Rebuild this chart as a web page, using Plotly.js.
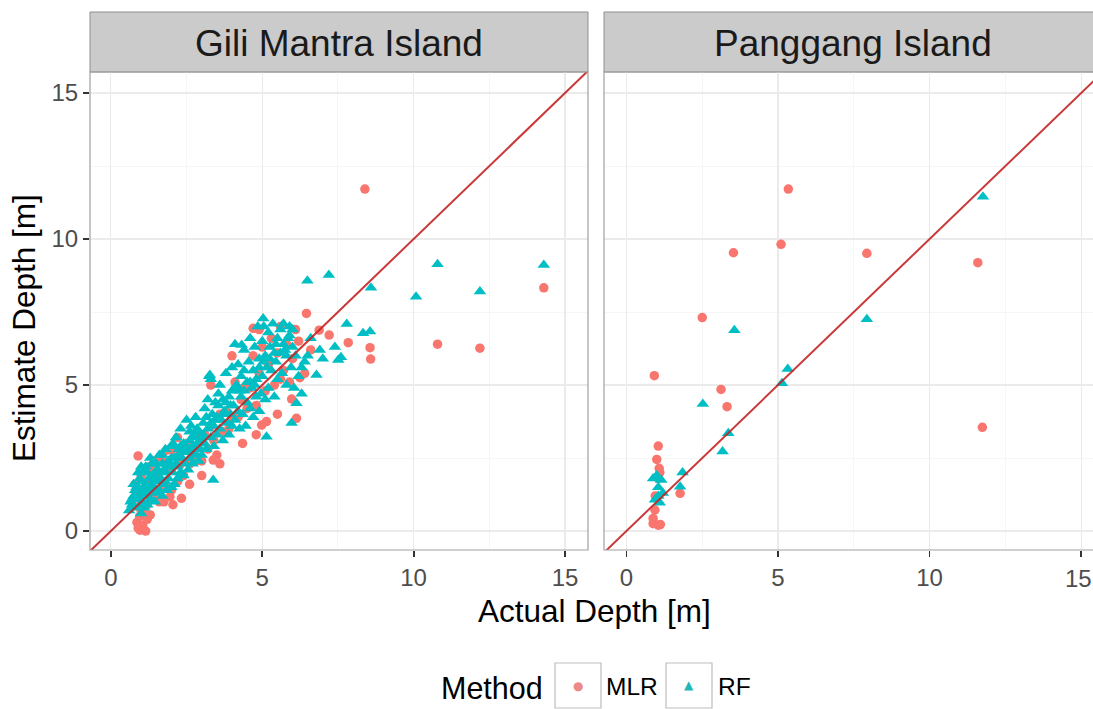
<!DOCTYPE html>
<html>
<head>
<meta charset="utf-8">
<script src="https://cdn.plot.ly/plotly-3.0.1.min.js"></script>
<style>html,body{margin:0;padding:0;background:#fff;}#chart{width:1093px;height:709px;}</style>
</head>
<body>
<div id="chart"></div>
<script>
// ---------- data ----------
const facets = ["Gili Mantra Island", "Panggang Island"];
const methods = ["MLR", "RF"];
const depthTicks = [0, 5, 10, 15];
const minorTicks = [2.5, 7.5, 12.5];
const identityLine = [-1, 17];

// Gili Mantra - MLR
const gmMlrX = [8.39,14.3,10.79,12.19,8.56,8.58,6.46,7.21,6.88,7.84,6.24,6.13,4.98,5.14,4.7,3.38,0.9,0.96,2.33,5.97,1.85,2.2,1.39,1.95,
  0.86,0.95,1.05,1.1,1.2,1.3,1.0,0.9,1.15,
  0.7,0.8,1.0,1.1,1.2,1.3,1.4,1.5,1.6,1.7,1.8,1.9,2.0,2.1,2.2,2.3,2.4,2.5,2.6,2.7,2.8,2.9,3.0,3.1,3.2,3.3,3.4,3.5,3.6,3.7,3.8,3.9,
  4.0,4.1,4.2,4.3,4.4,4.5,4.6,4.7,4.8,4.9,5.0,5.1,5.2,5.3,5.4,5.5,5.6,5.7,5.8,5.9,6.0,6.2,6.4,6.6,
  2.05,1.75,2.6,3.0,1.45,1.25,0.85,3.6,4.35,4.8,5.5,3.3,4.0,4.9,5.6,6.1];
const gmMlrY = [11.71,8.33,6.4,6.26,6.28,5.89,7.45,6.71,6.88,6.45,5.25,3.86,3.63,3.75,6.94,2.43,2.57,0.03,1.12,4.52,2.77,3.2,2.16,1.17,
  0.3,0.5,0.2,0.6,0.4,0.55,0.7,0.1,0.0,
  1.0,1.6,1.9,1.3,0.9,1.7,1.2,2.0,1.0,2.4,1.5,2.1,1.4,2.7,1.7,2.3,1.9,3.0,2.3,2.6,2.4,3.2,2.4,3.3,2.8,3.6,3.1,2.6,4.0,3.4,4.1,3.5,
  3.9,5.1,3.9,4.5,4.9,4.2,4.9,6.0,4.3,5.4,6.3,4.8,5.7,6.6,5.0,6.1,5.2,5.5,6.4,5.1,5.9,6.5,5.4,6.2,
  0.9,1.0,1.6,1.9,2.4,2.2,1.3,2.3,3.0,3.3,4.0,5.0,6.0,6.9,7.0,6.9];

// Gili Mantra - RF
const gmRfX = [0.6,0.7,0.75,0.8,0.85,0.9,0.95,1.0,1.0,0.9,1.05,0.8,0.7,0.95,1.0,
  1.1,1.15,1.2,1.2,1.25,1.3,1.3,1.35,1.4,1.45,1.45,1.5,1.5,1.1,1.2,
  1.55,1.6,1.6,1.65,1.7,1.7,1.75,1.8,1.8,1.85,1.9,1.9,1.95,2.0,2.0,
  2.05,2.1,2.1,2.15,2.2,2.2,2.25,2.3,2.3,2.35,2.4,2.4,2.45,2.5,2.5,
  2.55,2.6,2.6,2.65,2.7,2.7,2.75,2.8,2.8,2.85,2.9,2.9,2.95,3.0,3.0,
  3.05,3.1,3.1,3.15,3.2,3.25,3.3,3.3,3.35,3.4,3.4,3.45,3.5,3.5,
  3.55,3.6,3.6,3.65,3.7,3.7,3.75,3.8,3.85,3.9,3.9,3.95,4.0,4.0,4.0,
  4.05,4.1,4.1,4.15,4.2,4.2,4.25,4.3,4.3,4.35,4.4,4.4,4.45,4.5,4.5,
  4.55,4.6,4.6,4.65,4.7,4.7,4.75,4.8,4.8,4.85,4.9,4.9,4.95,5.0,5.0,
  5.05,5.1,5.1,5.15,5.2,5.2,5.25,5.3,5.35,5.4,5.4,5.45,5.5,5.5,
  5.6,5.65,5.7,5.75,5.8,5.85,5.9,5.95,6.0,6.05,6.1,6.2,6.3,6.4,
  6.0,5.9,6.5,7.0,6.3,6.9,7.6,7.4,6.6,5.7,
  0.65,0.75,0.85,0.9,1.0,1.05,1.1,1.15,1.2,1.25,1.3,1.35,1.4,1.5,1.55,1.6,1.7,1.75,1.8,1.9,2.0,2.05,2.15,2.25,2.3,2.4,
  2.55,2.6,2.7,2.75,2.85,2.95,3.05,3.15,3.2,3.3,3.45,3.55,3.7,3.8,3.95,4.1,4.25,4.4,4.6,4.75,4.9,5.05,5.25,5.45,5.6,5.8,
  10.79,14.3,6.49,7.2,8.59,10.08,12.19,5.03,7.79,8.33,8.56,7.51,6.79,6.13,5.97,5.14,3.38,3.27,4.32];
const gmRfY = [0.7,0.9,1.2,0.8,1.5,1.1,1.8,0.6,1.3,2.0,1.0,1.4,1.1,0.9,2.2,
  1.2,1.6,0.9,2.0,1.4,1.1,1.8,2.3,1.5,1.0,2.0,1.3,1.7,0.8,1.5,
  2.1,1.4,2.6,1.8,1.2,2.3,1.6,2.0,2.8,1.4,2.4,1.8,2.2,1.5,2.9,
  2.0,2.5,1.6,3.2,2.2,1.8,2.8,2.0,3.5,2.5,1.9,3.0,2.3,2.7,3.8,
  2.1,3.1,2.5,3.6,2.3,2.9,3.3,2.6,3.9,3.0,2.4,3.4,2.8,3.2,2.6,
  3.7,3.0,4.2,2.8,3.5,5.3,5.2,3.2,4.0,2.9,3.6,4.4,3.3,3.9,
  4.3,3.5,5.0,3.8,4.5,3.1,4.1,5.4,3.7,4.6,3.3,4.0,4.8,3.6,5.6,
  4.3,3.8,6.4,5.0,4.1,5.7,3.5,4.6,5.3,4.0,6.2,4.8,3.6,5.1,4.4,
  5.8,4.2,6.6,4.9,3.9,5.5,6.3,4.6,5.2,7.0,4.1,5.9,4.7,6.5,5.3,
  7.0,4.5,6.0,5.6,6.8,4.9,6.3,5.5,7.1,6.1,4.6,5.8,6.6,5.2,
  6.9,5.4,7.1,6.2,5.0,6.6,7.0,5.6,6.3,4.9,6.0,5.3,4.7,5.8,
  6.9,6.7,6.0,5.9,5.6,6.2,5.95,6.3,6.6,6.4,
  1.0,1.6,1.1,1.5,1.7,2.0,1.4,2.2,1.2,1.8,2.5,1.6,1.9,2.3,1.7,2.0,2.6,2.1,1.7,2.2,2.5,3.0,2.3,2.6,2.9,2.7,
  2.8,3.4,3.2,2.7,3.5,3.1,3.3,3.9,4.5,3.7,3.8,4.7,4.0,4.4,4.3,4.9,4.8,5.5,5.1,5.0,5.6,5.8,5.9,6.4,6.1,6.0,
  9.14,9.11,8.57,8.77,8.33,8.02,8.2,7.28,7.09,6.77,6.83,5.86,5.34,4.38,3.7,3.23,1.75,5.34,6.37];

// Panggang - MLR
const pgMlrX = [5.34,5.1,3.53,7.93,11.59,2.5,0.92,3.12,3.32,11.74,1.05,1.0,1.08,1.77,0.94,0.88,1.05,0.88,1.12,1.05,0.95,1.1];
const pgMlrY = [11.71,9.82,9.53,9.51,9.19,7.31,5.32,4.85,4.26,3.55,2.91,2.45,2.15,1.29,0.72,0.43,0.2,0.25,0.22,1.8,1.2,2.0];
// Panggang - RF
const pgRfX = [11.76,3.56,7.93,5.32,5.13,2.52,3.36,3.17,1.85,1.77,0.88,1.15,1.05,0.94,1.2,1.1,1.0,1.05];
const pgRfY = [11.45,6.88,7.25,5.55,5.06,4.35,3.35,2.72,2.0,1.52,1.8,1.75,1.5,1.07,1.3,0.97,1.9,1.2];

// ---------- style ----------
const FONT = "Liberation Sans, Arial, Helvetica, sans-serif";
const colMLR = "#F8766D", colRF = "#00BFC4";
const lineCol = "rgba(195,35,35,0.9)";

function pts(x, y, xa, ya, method) {
  const isMLR = method === "MLR";
  return {
    type: "scatter", mode: "markers", x: x, y: y, xaxis: xa, yaxis: ya,
    name: method, showlegend: false, hoverinfo: "x+y+name",
    marker: { symbol: isMLR ? "circle" : "triangle-up", size: isMLR ? 9.5 : 11,
      color: isMLR ? colMLR : colRF, line: { width: 0 } }
  };
}
function refLine(xa, ya) {
  return { type: "scatter", mode: "lines", x: identityLine, y: identityLine, xaxis: xa, yaxis: ya,
    showlegend: false, hoverinfo: "skip", line: { color: lineCol, width: 2 } };
}

const data = [
  pts(gmMlrX, gmMlrY, "x", "y", methods[0]),
  pts(gmRfX, gmRfY, "x", "y", methods[1]),
  refLine("x", "y"),
  pts(pgMlrX, pgMlrY, "x2", "y2", methods[0]),
  pts(pgRfX, pgRfY, "x2", "y2", methods[1]),
  refLine("x2", "y2")
];

// geometry (pixels -> paper)
const W = 1093, H = 709, mL = 90, mR = 0, mT = 12, mB = 159;
const pw = W - mL - mR, ph = H - mT - mB;
const px = v => (v - mL) / pw;
const py = v => (H - mB - v) / ph;
const panelTop = py(72);

const tickFont = { family: FONT, size: 24, color: "#4d4d4d" };
const axisBase = {
  tickmode: "array", tickvals: depthTicks, ticktext: depthTicks.map(String),
  ticks: "outside", ticklen: 6, tickwidth: 1.8, tickcolor: "#333333",
  tickfont: tickFont,
  showgrid: true, gridcolor: "#ebebeb", gridwidth: 1.2,
  minor: { tickmode: "array", tickvals: minorTicks, showgrid: true, gridcolor: "#f4f4f4", gridwidth: 0.8, ticks: "" },
  zeroline: false, showline: false, fixedrange: true
};

const shapes = [
  // strips
  { type: "rect", xref: "paper", yref: "paper", x0: px(90), x1: px(588), y0: panelTop, y1: py(12),
    fillcolor: "#cbcbcb", line: { color: "#8f8f8f", width: 1 }, layer: "below" },
  { type: "rect", xref: "paper", yref: "paper", x0: px(604), x1: px(1102), y0: panelTop, y1: py(12),
    fillcolor: "#cbcbcb", line: { color: "#8f8f8f", width: 1 }, layer: "below" },
  // panel borders
  { type: "rect", xref: "paper", yref: "paper", x0: 0, x1: px(588), y0: 0, y1: panelTop,
    line: { color: "#a0a0a0", width: 1.2 }, layer: "above" },
  { type: "rect", xref: "paper", yref: "paper", x0: px(604), x1: px(1102), y0: 0, y1: panelTop,
    line: { color: "#a0a0a0", width: 1.2 }, layer: "above" },
  // legend key boxes
  { type: "rect", xref: "paper", yref: "paper", x0: px(555), x1: px(601), y0: py(708), y1: py(663),
    fillcolor: "#ffffff", line: { color: "#bdbdbd", width: 1.2 } },
  { type: "rect", xref: "paper", yref: "paper", x0: px(666), x1: px(712), y0: py(708), y1: py(663),
    fillcolor: "#ffffff", line: { color: "#bdbdbd", width: 1.2 } }
];

const annotations = [
  { text: facets[0], xref: "paper", yref: "paper", x: px(339), y: py(43), xanchor: "center", yanchor: "middle",
    showarrow: false, font: { family: FONT, size: 37, color: "#1a1a1a" } },
  { text: facets[1], xref: "paper", yref: "paper", x: px(853), y: py(43), xanchor: "center", yanchor: "middle",
    showarrow: false, font: { family: FONT, size: 37, color: "#1a1a1a" } },
  { text: "Actual Depth [m]", xref: "paper", yref: "paper", x: px(594), y: py(611), xanchor: "center", yanchor: "middle",
    showarrow: false, borderpad: 0, font: { family: FONT, size: 31.5, color: "#000000" } },
  { text: "Estimate Depth [m]", xref: "paper", yref: "paper", x: px(24), y: py(328), xanchor: "center", yanchor: "middle",
    textangle: -90, showarrow: false, font: { family: FONT, size: 31.5, color: "#000000" } },
  // right-panel "15" tick label (Plotly hides labels touching the page edge)
  { text: String(depthTicks[3]), xref: "x2", yref: "paper", x: depthTicks[3], y: py(578), xanchor: "center", yanchor: "middle",
    xshift: -3, showarrow: false, borderpad: 0, font: tickFont },
  // legend
  { text: "Method", xref: "paper", yref: "paper", x: px(439), y: py(688), xanchor: "left", yanchor: "middle",
    showarrow: false, font: { family: FONT, size: 30.5, color: "#000000" } },
  { text: "●", xref: "paper", yref: "paper", x: px(578), y: py(686), xanchor: "center", yanchor: "middle",
    showarrow: false, font: { family: "DejaVu Sans", size: 12, color: "#ee8a86" } },
  { text: methods[0], xref: "paper", yref: "paper", x: px(604), y: py(687), xanchor: "left", yanchor: "middle",
    showarrow: false, font: { family: FONT, size: 24.5, color: "#000000" } },
  { text: "▲", xref: "paper", yref: "paper", x: px(689), y: py(685), xanchor: "center", yanchor: "middle",
    showarrow: false, font: { family: "DejaVu Sans", size: 12, color: "#1fb8b8" } },
  { text: methods[1], xref: "paper", yref: "paper", x: px(716), y: py(687), xanchor: "left", yanchor: "middle",
    showarrow: false, font: { family: FONT, size: 24.5, color: "#000000" } }
];

const layout = {
  width: W, height: H, margin: { l: mL, r: mR, t: mT, b: mB, pad: 0 },
  paper_bgcolor: "#ffffff", plot_bgcolor: "#ffffff",
  font: { family: FONT },
  showlegend: false,
  xaxis: Object.assign({}, axisBase, { domain: [0, px(588)], range: [-0.69, 15.76], anchor: "y" }),
  yaxis: Object.assign({}, axisBase, { domain: [0, panelTop], range: [-0.65, 15.72], anchor: "x" }),
  xaxis2: Object.assign({}, axisBase, { domain: [px(604), 1], range: [-0.74, 15.39], anchor: "y2" }),
  yaxis2: Object.assign({}, axisBase, { domain: [0, panelTop], range: [-0.65, 15.72], anchor: "x2",
    showticklabels: false, ticks: "" }),
  shapes: shapes,
  annotations: annotations
};

Plotly.newPlot("chart", data, layout, { staticPlot: true, displayModeBar: false });
</script>
</body>
</html>
